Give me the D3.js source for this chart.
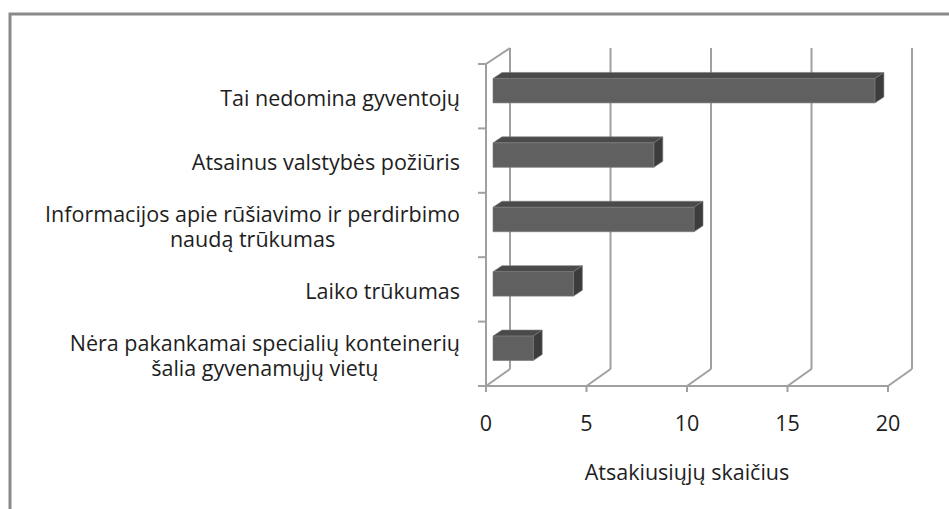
<!DOCTYPE html>
<html>
<head>
<meta charset="utf-8">
<script src="https://cdn.jsdelivr.net/npm/d3@7"></script>
<style>
    body { margin: 0; background: white; }
    svg { display: block; }
    text { font-family: "Open Sans", sans-serif; fill: #1e1e1e; }
</style>
</head>
<body>
<svg id="svg"></svg>
<script>

// answers, top to bottom as in the chart
let categories = [
    "Tai nedomina gyventojų",
    "Atsainus valstybės požiūris",
    "Informacijos apie rūšiavimo ir perdirbimo\nnaudą trūkumas",
    "Laiko trūkumas",
    "Nėra pakankamai specialių konteinerių\nšalia gyvenamųjų vietų"
];
let counts = [19, 8, 10, 4, 2];
let xTicks = [0, 5, 10, 15, 20];
let axisTitle = "Atsakiusiųjų skaičius";

const width = 949;
const height = 509;

// 3d offsets: whole depth of the plot and the bar inside it
const depth = { dx: 24, dy: -17 };
const barFront = { dx: 7, dy: -5.5 };
const barDepth = { dx: 9, dy: -6 };

let svg = d3.select("#svg")
    .attr("width", width)
    .attr("height", height);

let xScale = d3.scaleLinear()
    .domain([0, 20])
    .range([486, 888]);

let yScale = d3.scaleBand()
    .domain(categories)
    .range([64, 386]);

const floorY = yScale.range()[1];
const wallTop = yScale.range()[0];

// outer frame (only top and left are visible)
svg.append("path")
    .attr("d", `M10,${height} L10,14 L${width},14`)
    .attr("fill", "none")
    .attr("stroke", "#8a8a8a")
    .attr("stroke-width", 3);

let grid = svg.append("g")
    .attr("stroke", "#a0a0a0")
    .attr("stroke-width", 2)
    .attr("fill", "none");

// back wall gridlines
grid.selectAll(".grid")
    .data(xTicks)
    .enter()
    .append("line")
    .attr("x1", d => xScale(d) + depth.dx)
    .attr("x2", d => xScale(d) + depth.dx)
    .attr("y1", floorY + depth.dy)
    .attr("y2", wallTop + depth.dy + 1);

// floor lines
grid.selectAll(".floor")
    .data(xTicks)
    .enter()
    .append("line")
    .attr("x1", d => xScale(d))
    .attr("x2", d => xScale(d) + depth.dx)
    .attr("y1", floorY)
    .attr("y2", floorY + depth.dy);

// left wall edge
grid.append("path")
    .attr("d", `M${xScale(0)},${floorY} L${xScale(0)},${wallTop} L${xScale(0) + depth.dx},${wallTop + depth.dy + 1}`);

// front x axis line and ticks
grid.append("line")
    .attr("x1", xScale(0) - 6)
    .attr("x2", xScale(20))
    .attr("y1", floorY)
    .attr("y2", floorY);

grid.selectAll(".xtick")
    .data(xTicks)
    .enter()
    .append("line")
    .attr("x1", d => xScale(d))
    .attr("x2", d => xScale(d))
    .attr("y1", floorY)
    .attr("y2", floorY + 6);

// category ticks on the wall edge
let catTicks = categories.map(c => yScale(c)).concat([floorY]);
grid.selectAll(".ytick")
    .data(catTicks)
    .enter()
    .append("line")
    .attr("x1", xScale(0) - 8)
    .attr("x2", xScale(0))
    .attr("y1", d => d)
    .attr("y2", d => d);

// bars
let barH = yScale.bandwidth() * 0.38;
let bars = svg.selectAll(".bar")
    .data(categories.map((c, i) => ({ cat: c, value: counts[i] })))
    .enter()
    .append("g")
    .attr("class", "bar")
    .attr("stroke", "#7a7a7a")
    .attr("stroke-width", 0.6)
    .attr("stroke-linejoin", "round");

function barGeom(d) {
    let x0 = xScale(0) + barFront.dx;
    let x1 = xScale(d.value) + barFront.dx;
    let y0 = yScale(d.cat) + yScale.bandwidth() / 2 - barH / 2 + barFront.dy;
    return { x0, x1, y0, y1: y0 + barH };
}

// top face
bars.append("path")
    .attr("fill", "#4a4a4a")
    .attr("d", d => {
        let g = barGeom(d);
        return `M${g.x0},${g.y0} L${g.x0 + barDepth.dx},${g.y0 + barDepth.dy} L${g.x1 + barDepth.dx},${g.y0 + barDepth.dy} L${g.x1},${g.y0} Z`;
    });

// side face
bars.append("path")
    .attr("fill", "#3c3c3c")
    .attr("d", d => {
        let g = barGeom(d);
        return `M${g.x1},${g.y0} L${g.x1 + barDepth.dx},${g.y0 + barDepth.dy} L${g.x1 + barDepth.dx},${g.y1 + barDepth.dy} L${g.x1},${g.y1} Z`;
    });

// front face
bars.append("rect")
    .attr("fill", "#606060")
    .attr("x", d => barGeom(d).x0)
    .attr("y", d => barGeom(d).y0)
    .attr("width", d => barGeom(d).x1 - barGeom(d).x0)
    .attr("height", barH);

// category labels, lines centred on each other and the block right aligned
const labelRight = 460;
let lineH = 25;
let labels = svg.selectAll(".cat-label")
    .data(categories)
    .enter()
    .append("text")
    .attr("class", "cat-label")
    .attr("text-anchor", "middle")
    .style("font-size", "21.5px");

labels.each(function(c) {
    let lines = c.split("\n");
    let mid = yScale(c) + yScale.bandwidth() / 2 + 2;
    let first = mid - (lines.length - 1) * lineH / 2 + 7.5;
    let spans = d3.select(this).selectAll("tspan")
        .data(lines)
        .enter()
        .append("tspan")
        .attr("y", (l, i) => first + i * lineH)
        .text(l => l);
    let maxW = 0;
    spans.each(function() { maxW = Math.max(maxW, this.getComputedTextLength()); });
    spans.attr("x", labelRight - maxW / 2);
});

// x tick labels
svg.selectAll(".x-label")
    .data(xTicks)
    .enter()
    .append("text")
    .attr("x", d => xScale(d))
    .attr("y", 431)
    .attr("text-anchor", "middle")
    .style("font-size", "21.5px")
    .text(d => d);

// axis title
svg.append("text")
    .attr("x", (xScale(0) + xScale(20)) / 2)
    .attr("y", 480)
    .attr("text-anchor", "middle")
    .style("font-size", "21.5px")
    .text(axisTitle);

</script>
</body>
</html>
